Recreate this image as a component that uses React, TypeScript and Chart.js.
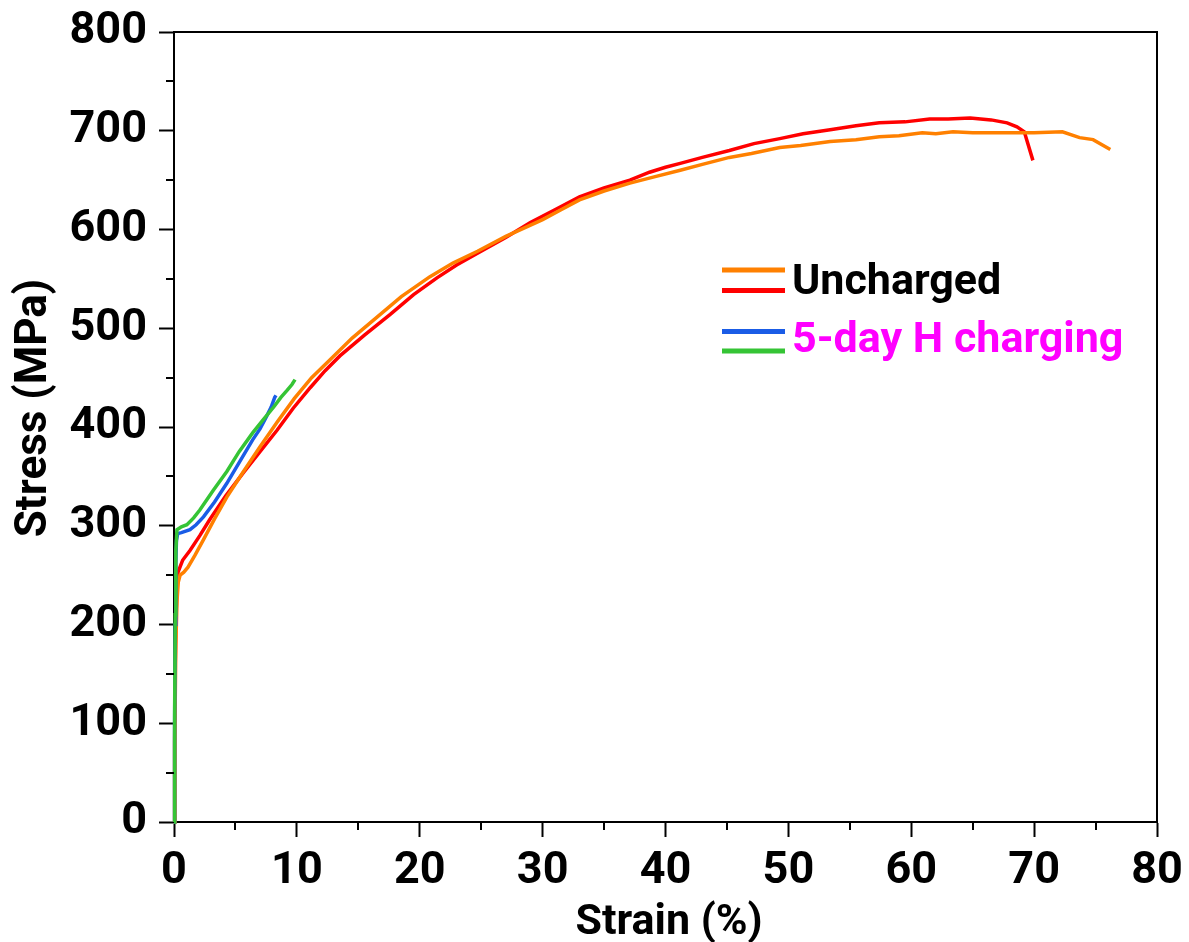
import React, { useEffect, useRef } from "react";
import { Chart, registerables } from "chart.js";

Chart.register(...registerables);

// ---------- data (strain %, stress MPa) ----------
const unchargedOrangeStrain = [0, 0.08, 0.15, 0.25, 0.35, 0.5, 0.8, 1.14, 1.7, 2.4, 3.3, 4.3, 5.6, 7.0, 8.4, 9.8, 11.2, 12.7, 14.5, 16.5, 18.5, 20.8, 22.7, 24.7, 27.0, 30.0, 31.5, 33.0, 35.0, 37.1, 39.0, 41.2, 43.0, 45.2, 47.0, 49.3, 51.0, 53.4, 55.5, 57.4, 59.0, 60.9, 62.0, 63.4, 65.0, 67.0, 68.3, 70.0, 72.3, 73.7, 74.8, 76.2];
const unchargedOrangeStress = [0, 100, 180, 225, 243, 250, 253, 258, 270, 286, 307, 329, 354, 380, 405, 429, 450, 468, 490, 511, 532, 552, 566, 578, 593, 610, 620, 630, 639, 647, 653, 660, 666, 673, 677, 683, 685, 689, 691, 694, 695, 698, 697, 699, 698, 698, 698, 698, 699, 693, 691, 681];

const unchargedRedStrain = [0, 0.05, 0.1, 0.18, 0.26, 0.33, 0.7, 1.3, 2.1, 2.9, 4.2, 5.6, 7.0, 8.4, 9.7, 11.1, 12.3, 13.5, 15.5, 17.6, 19.5, 21.4, 23.0, 24.7, 27.0, 29.0, 31.0, 33.0, 35.0, 37.1, 38.7, 40.0, 41.2, 43.0, 45.2, 47.2, 49.3, 51.2, 53.4, 55.5, 57.4, 59.5, 61.5, 63.0, 64.8, 66.5, 67.8, 68.6, 69.2, 69.9];
const unchargedRedStress = [0, 80, 160, 215, 240, 253, 265, 275, 290, 306, 330, 353, 375, 397, 419, 440, 457, 472, 493, 514, 534, 551, 564, 576, 592, 607, 620, 633, 642, 650, 658, 663, 667, 673, 680, 687, 692, 697, 701, 705, 708, 709, 712, 712, 713, 711, 708, 704, 699, 670];

const chargedBlueStrain = [0, 0.05, 0.1, 0.15, 0.2, 0.3, 0.6, 1.3, 1.8, 2.4, 3.3, 4.3, 5.3, 6.4, 7.0, 7.5, 7.9, 8.2, 8.3];
const chargedBlueStress = [0, 100, 200, 262, 285, 292, 293, 296, 301, 309, 324, 343, 364, 387, 398, 410, 420, 430, 432];

const chargedGreenStrain = [0, 0.05, 0.1, 0.15, 0.24, 0.6, 1.05, 1.6, 2.1, 3.2, 4.3, 5.3, 6.4, 7.3, 8.1, 8.7, 9.2, 9.6, 9.85];
const chargedGreenStress = [0, 110, 210, 275, 296, 299, 301, 308, 316, 336, 355, 375, 394, 408, 420, 430, 437, 443, 448];

const xMajorTicks = [0, 10, 20, 30, 40, 50, 60, 70, 80];
const xMinorTicks = [5, 15, 25, 35, 45, 55, 65, 75];
const yMajorTicks = [0, 100, 200, 300, 400, 500, 600, 700, 800];
const yMinorTicks = [50, 150, 250, 350, 450, 550, 650, 750];

const xTitle = "Strain (%)";
const yTitle = "Stress (MPa)";
const legendLabels = ["Uncharged", "5-day H charging"];

const ORANGE = "#FF8000";
const RED = "#FF0000";
const BLUE = "#1A5CE6";
const GREEN = "#35C435";
const MAGENTA = "#FF00FF";

const toPoints = (xs: number[], ys: number[]) => xs.map((x, i) => ({ x, y: ys[i] }));

const FONT = "Roboto";

const decorPlugin = {
  id: "decor",
  afterDraw(chart: any) {
    const { ctx, chartArea } = chart;
    const xs = chart.scales.x;
    const ys = chart.scales.y;
    ctx.save();
    ctx.strokeStyle = "#000";
    ctx.lineWidth = 2;
    // minor ticks
    ctx.beginPath();
    yMinorTicks.forEach((v) => {
      const py = Math.round(ys.getPixelForValue(v));
      ctx.moveTo(chartArea.left - 8, py);
      ctx.lineTo(chartArea.left, py);
    });
    xMinorTicks.forEach((v) => {
      const px = Math.round(xs.getPixelForValue(v));
      ctx.moveTo(px, chartArea.bottom);
      ctx.lineTo(px, chartArea.bottom + 8);
    });
    ctx.stroke();
    // frame top and right
    ctx.beginPath();
    ctx.moveTo(chartArea.left, chartArea.top);
    ctx.lineTo(chartArea.right, chartArea.top);
    ctx.lineTo(chartArea.right, chartArea.bottom);
    ctx.stroke();

    // axis titles
    ctx.fillStyle = "#000";
    ctx.textAlign = "center";
    ctx.textBaseline = "alphabetic";
    ctx.font = `bold 43px ${FONT}`;
    ctx.fillText(xTitle, 669, 934);
    ctx.save();
    ctx.font = `bold 44px ${FONT}`;
    ctx.translate(46, 408);
    ctx.rotate(-Math.PI / 2);
    ctx.fillText(yTitle, 0, 0);
    ctx.restore();

    // legend
    const lx0 = 722;
    const lx1 = 785;
    ctx.lineWidth = 5;
    const lines: [string, number][] = [
      [ORANGE, 270],
      [RED, 290.5],
      [BLUE, 331.5],
      [GREEN, 351],
    ];
    lines.forEach(([c, y]) => {
      ctx.strokeStyle = c;
      ctx.beginPath();
      ctx.moveTo(lx0, y);
      ctx.lineTo(lx1, y);
      ctx.stroke();
    });
    ctx.font = `bold 43px ${FONT}`;
    ctx.textAlign = "left";
    ctx.fillStyle = "#000";
    ctx.fillText(legendLabels[0], 792, 294);
    ctx.fillStyle = MAGENTA;
    ctx.fillText(legendLabels[1], 792, 352);
    ctx.restore();
  },
};

export default function App() {
  const ref = useRef<HTMLCanvasElement | null>(null);
  useEffect(() => {
    let chart: Chart | null = null;
    let cancelled = false;
    const build = () => {
      if (cancelled || !ref.current) return;
      chart = new Chart(ref.current, {
        type: "line",
        data: {
          datasets: [
            { label: "H 2", data: toPoints(chargedGreenStrain, chargedGreenStress), borderColor: GREEN, order: 1 },
            { label: "H 1", data: toPoints(chargedBlueStrain, chargedBlueStress), borderColor: BLUE, order: 2 },
            { label: "U 1", data: toPoints(unchargedOrangeStrain, unchargedOrangeStress), borderColor: ORANGE, order: 3 },
            { label: "U 2", data: toPoints(unchargedRedStrain, unchargedRedStress), borderColor: RED, order: 4 },
          ].map((d) => ({ ...d, borderWidth: 3.5, pointRadius: 0, tension: 0, fill: false, clip: 6 })) as any,
        },
        options: {
          animation: false,
          responsive: false,
          devicePixelRatio: 1,
          events: [],
          layout: { padding: { top: 32, right: 32, left: 0, bottom: 0 } },
          plugins: { legend: { display: false }, tooltip: { enabled: false }, title: { display: false } },
          scales: {
            x: {
              type: "linear",
              min: 0,
              max: 80,
              afterFit: (s: any) => {
                s.height = 120;
                s.paddingLeft = 0;
                s.paddingRight = 0;
              },
              afterBuildTicks: (s: any) => {
                s.ticks = xMajorTicks.map((v) => ({ value: v }));
              },
              grid: { drawOnChartArea: false, drawTicks: true, tickLength: 15, tickColor: "#000", tickWidth: 2 },
              border: { display: true, color: "#000", width: 2 },
              ticks: { color: "#000", font: { family: FONT, size: 45, weight: "bold" }, padding: 8, maxRotation: 0 },
            },
            y: {
              type: "linear",
              min: 0,
              max: 800,
              afterFit: (s: any) => {
                s.width = 174;
                s.paddingTop = 0;
                s.paddingBottom = 0;
              },
              afterBuildTicks: (s: any) => {
                s.ticks = yMajorTicks.map((v) => ({ value: v }));
              },
              grid: { drawOnChartArea: false, drawTicks: true, tickLength: 15, tickColor: "#000", tickWidth: 2 },
              border: { display: true, color: "#000", width: 2 },
              ticks: { color: "#000", font: { family: FONT, size: 45, weight: "bold" }, padding: 12 },
            },
          },
        } as any,
        plugins: [decorPlugin],
      });
    };
    const fontsReady = (document as any).fonts
      ? Promise.all([
          (document as any).fonts.load(`bold 45px ${FONT}`),
          (document as any).fonts.load(`bold 43px ${FONT}`),
        ]).catch(() => null)
      : Promise.resolve(null);
    fontsReady.then(build);
    return () => {
      cancelled = true;
      if (chart) chart.destroy();
    };
  }, []);
  return (
    <div style={{ position: "absolute", left: 0, top: 0, width: 1189, height: 942, background: "#fff" }}>
      <canvas ref={ref} width={1189} height={942} style={{ display: "block", width: 1189, height: 942 }} />
    </div>
  );
}
